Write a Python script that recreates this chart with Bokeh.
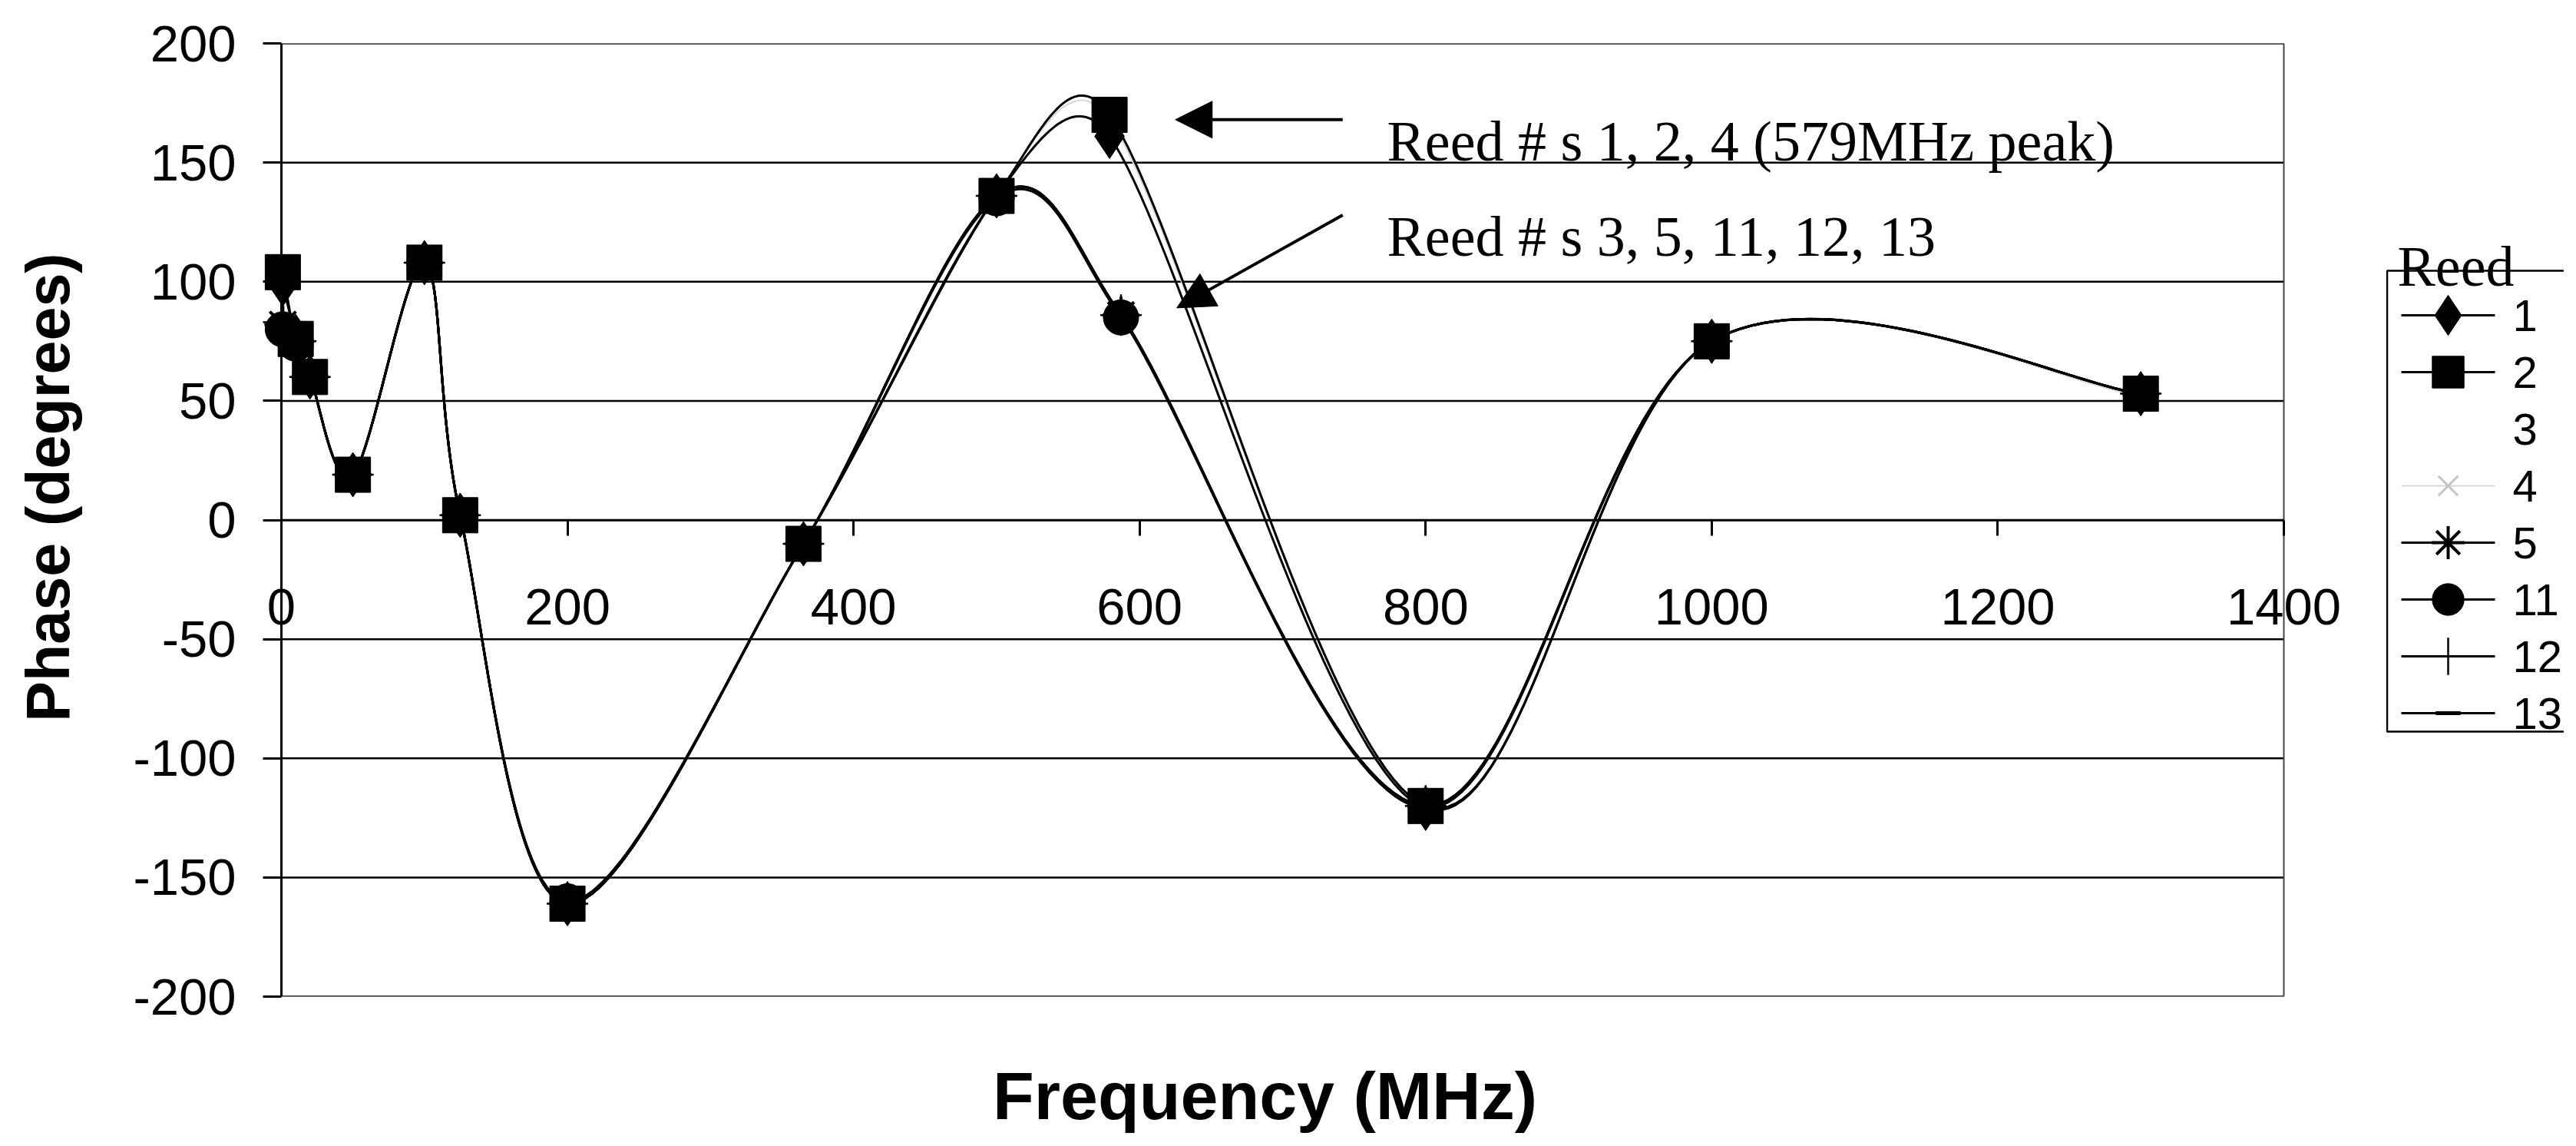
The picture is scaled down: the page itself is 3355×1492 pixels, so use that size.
import numpy as np
from bokeh.plotting import figure
from bokeh.layouts import row, column
from bokeh.models import (Range1d, FixedTicker, Arrow, NormalHead, Label)
from bokeh.core.properties import value
from bokeh.embed import file_html
from bokeh.resources import INLINE

# ---------------- data ----------------
freq_A = [1, 10, 20, 50, 100, 125, 200, 365, 500, 579, 800, 1000, 1300]   # reeds 1, 2, 4
freq_B = [1, 10, 20, 50, 100, 125, 200, 365, 500, 587, 800, 1000, 1300]   # reeds 3, 5, 11, 12, 13

reed_1 = [99, 77, 60, 19, 108, 2, -161, -10, 136, 161, -121, 75, 53]
reed_2 = [104, 76, 60, 19, 108, 2, -161, -10, 136, 170, -120, 75, 53]
reed_4 = [102, 75, 60, 19, 108, 2, -161, -10, 136, 168, -120, 75, 52]
reed_3 = [97, 74, 60, 19, 108, 2, -161, -10, 136, 86, -120, 75, 53]
reed_5 = [82, 75, 60, 19, 108, 2, -161, -10, 136, 86, -120, 75, 53]
reed_11 = [80, 74, 60, 19, 108, 2, -160, -10, 135, 85, -120, 75, 53]
reed_12 = [83, 75, 60, 19, 108, 2, -161, -10, 136, 86, -120, 75, 53]
reed_13 = [81, 74, 60, 19, 108, 2, -161, -10, 136, 86, -121, 75, 53]

x_ticks = [0, 200, 400, 600, 800, 1000, 1200, 1400]
y_ticks = [-200, -150, -100, -50, 0, 50, 100, 150, 200]

x_title = "Frequency (MHz)"
y_title = "Phase (degrees)"
legend_title = "Reed"
legend_order = ["1", "2", "3", "4", "5", "11", "12", "13"]

note_1 = "Reed # s 1, 2, 4 (579MHz peak)"
note_2 = "Reed # s 3, 5, 11, 12, 13"
note_x = 773
note_1_y = 159
note_2_y = 119
arrow_1 = (742, 168, 625, 168)
arrow_2 = (742, 128, 626, 89)

X_MIN, X_MAX, Y_MIN, Y_MAX = 0, 1400, -200, 200

# ---------------- layout constants (pixels, page coordinates minus margin) ----------------
TOTAL_W, TOTAL_H = 3339, 1476
PLOT_LEFT = 366            # pixel of x = 0
PLOT_W, PLOT_H = 2608, 1241
TOP = 56
PAD_L, PAD_R = 24, 80      # frame extends a little beyond the plot area
YT_W = 124                 # strip holding the y title
MAIN_END = 3107            # legend strip starts here
MAIN_H = TOP + PLOT_H + 46
FRAME_L = PLOT_LEFT - PAD_L
FRAME_R = PLOT_LEFT + PLOT_W + PAD_R
LEG_W = TOTAL_W - MAIN_END
XT_H = TOTAL_H - MAIN_H
PX_X = PLOT_W / (X_MAX - X_MIN)
PX_Y = PLOT_H / (Y_MAX - Y_MIN)

SANS = "Liberation Sans"
SERIF = "Liberation Serif"


def smooth(xs, ys, steps=40):
    """Excel-like smoothed line: Bezier segments, tangent parallel to the
    neighbours' chord, control distance 1/6 (shortened for short segments),
    computed in screen space."""
    X = np.asarray(xs, float) * PX_X
    Y = np.asarray(ys, float) * PX_Y
    n = len(X)
    px, py = [], []
    for i in range(n - 1):
        i0 = max(i - 1, 0)
        i3 = min(i + 2, n - 1)
        d12 = np.hypot(X[i + 1] - X[i], Y[i + 1] - Y[i])
        d02 = np.hypot(X[i + 1] - X[i0], Y[i + 1] - Y[i0])
        d13 = np.hypot(X[i3] - X[i], Y[i3] - Y[i])
        f1 = min(1 / 6, 0.5 * d12 / d02) if d02 > 0 else 0
        f2 = min(1 / 6, 0.5 * d12 / d13) if d13 > 0 else 0
        c1x = X[i] + f1 * (X[i + 1] - X[i0])
        c1y = Y[i] + f1 * (Y[i + 1] - Y[i0])
        c2x = X[i + 1] - f2 * (X[i3] - X[i])
        c2y = Y[i + 1] - f2 * (Y[i3] - Y[i])
        t = np.linspace(0, 1, steps)
        if i < n - 2:
            t = t[:-1]
        a = (1 - t) ** 3
        b = 3 * t * (1 - t) ** 2
        c = 3 * t ** 2 * (1 - t)
        d = t ** 3
        px.extend((a * X[i] + b * c1x + c * c2x + d * X[i + 1]) / PX_X)
        py.extend((a * Y[i] + b * c1y + c * c2y + d * Y[i + 1]) / PX_Y)
    return px, py


def strip(w, h, xr, yr, bl=0, br=0, bt=0, bb=0):
    f = figure(width=w, height=h, output_backend="svg", toolbar_location=None,
               x_range=xr, y_range=yr, min_border_left=bl, min_border_right=br,
               min_border_top=bt, min_border_bottom=bb)
    f.axis.visible = False
    f.grid.visible = False
    f.outline_line_color = None
    f.background_fill_color = "white"
    f.border_fill_color = "white"
    return f


# ================= main chart =================
p = figure(width=MAIN_END - YT_W, height=MAIN_H, output_backend="svg",
           toolbar_location=None,
           x_range=Range1d(X_MIN - PAD_L / PX_X, X_MAX + PAD_R / PX_X),
           y_range=Range1d(Y_MIN, Y_MAX),
           min_border_left=FRAME_L - YT_W, min_border_right=MAIN_END - FRAME_R,
           min_border_top=TOP, min_border_bottom=MAIN_H - TOP - PLOT_H)
p.background_fill_color = "white"
p.border_fill_color = "white"
p.outline_line_color = None

# x axis crossing at phase 0
xa = p.xaxis[0]
xa.fixed_location = 0
xa.bounds = (X_MIN, X_MAX)
xa.ticker = FixedTicker(ticks=x_ticks)
xa.axis_line_width = 2.5
xa.major_tick_line_width = 3
xa.major_tick_out = 20
xa.major_tick_in = 0
xa.minor_tick_line_color = None
xa.major_label_text_font = SANS
xa.major_label_text_font_size = "67px"
xa.major_label_text_color = "black"
xa.major_label_standoff = 70
p.xgrid.visible = False
p.ygrid.visible = False

# y axis (at the frame edge; its ticks reach in to x = 0)
ya = p.yaxis[0]
ya.ticker = FixedTicker(ticks=y_ticks)
ya.bounds = (Y_MIN, Y_MAX)
ya.major_label_overrides = {t: str(t) for t in y_ticks}
ya.axis_line_color = None
ya.major_tick_line_width = 3
ya.major_tick_out = 0
ya.major_tick_in = PAD_L
ya.minor_tick_line_color = None
ya.major_label_text_font = SANS
ya.major_label_text_font_size = "67px"
ya.major_label_text_color = "black"
ya.major_label_standoff = 35

# horizontal grid lines limited to the plot area, axis line at x = 0, right border
p.segment(x0=[X_MIN] * len(y_ticks), y0=y_ticks, x1=[X_MAX] * len(y_ticks), y1=y_ticks,
          line_color="black", line_width=2.5)
p.segment(x0=[X_MIN], y0=[Y_MIN], x1=[X_MIN], y1=[Y_MAX], line_color="black", line_width=3)
p.segment(x0=[X_MAX], y0=[Y_MIN], x1=[X_MAX], y1=[Y_MAX], line_color="#444444", line_width=2)

# series: name, freqs, values, marker, size, marker colour, line colour, line width, marker line width
series = [
    ("3", freq_B, reed_3, "triangle", 46, "#ffffff", "#ffffff", 3, 1),
    ("4", freq_A, reed_4, "x", 40, "#c4c4c4", "#d8d8d8", 2, 3),
    ("1", freq_A, reed_1, "diamond", 58, "black", "black", 3, 1),
    ("2", freq_A, reed_2, "square", 46, "black", "black", 3, 1),
    ("5", freq_B, reed_5, "asterisk", 48, "black", "black", 3, 4),
    ("11", freq_B, reed_11, "circle", 46, "black", "black", 3, 1),
    ("12", freq_B, reed_12, "cross", 54, "black", "black", 3, 2.5),
    ("13", freq_B, reed_13, "dash", 36, "black", "black", 3, 5),
]
style = {}
for name, fx, fy, marker, size, mcolor, lcolor, lw, mlw in series:
    sx, sy = smooth(fx, fy)
    p.line(sx, sy, line_color=lcolor, line_width=lw)
    p.scatter(fx, fy, marker=marker, size=size, fill_color=mcolor,
              line_color=mcolor, line_width=mlw)
    style[name] = (marker, size, mcolor, lcolor, lw, mlw)

# annotations
for (x0, y0, x1, y1) in (arrow_1, arrow_2):
    p.add_layout(Arrow(end=NormalHead(size=48, fill_color="black", line_color="black"),
                       x_start=x0, y_start=y0, x_end=x1, y_end=y1,
                       line_color="black", line_width=4))
for txt, ty in ((note_1, note_1_y), (note_2, note_2_y)):
    p.add_layout(Label(x=note_x, y=ty, text=txt, text_align="left",
                       text_baseline="middle", text_font=SERIF,
                       text_font_size="74px", text_color="black"))

# ================= y title strip (pixel coordinates, y downwards) =================
yt = strip(YT_W, MAIN_H, Range1d(0, YT_W), Range1d(TOP + PLOT_H, TOP),
           bt=TOP, bb=MAIN_H - TOP - PLOT_H)
yt.text(x=[62], y=[634], text=[y_title], angle=np.pi / 2, text_font=value(SANS),
        text_font_style="bold", text_font_size=value("79px"), text_align="center",
        text_baseline="middle", text_color="black")

# ================= legend strip (pixel coordinates, y downwards) =================
lg = strip(LEG_W, MAIN_H, Range1d(0, LEG_W), Range1d(TOP + PLOT_H, TOP),
           bt=TOP, bb=MAIN_H - TOP - PLOT_H)
BOX_TOP, BOX_BOTTOM = 352, 952
ROW0, PITCH = 410, 74
lg.line(x=[LEG_W + 20, 1.5, 1.5, LEG_W + 20], y=[BOX_TOP, BOX_TOP, BOX_BOTTOM, BOX_BOTTOM],
        line_color="black", line_width=2.5)
lg.text(x=[15], y=[346], text=[legend_title], text_font=value(SERIF),
        text_font_size=value("74px"), text_baseline="alphabetic", text_align="left",
        text_color="black")
for i, name in enumerate(legend_order):
    marker, size, mcolor, lcolor, lw, mlw = style[name]
    yy = ROW0 + PITCH * i
    lg.line(x=[20, 142], y=[yy, yy], line_color=lcolor, line_width=lw)
    lg.scatter(x=[81], y=[yy], marker=marker, size=size * 0.9, fill_color=mcolor,
               line_color=mcolor, line_width=mlw)
    lg.text(x=[165], y=[yy], text=[name], text_font=value(SANS),
            text_font_size=value("58px"), text_baseline="middle", text_align="left",
            text_color="black")

# ================= x title strip =================
xt = strip(TOTAL_W, XT_H, Range1d(FRAME_L, FRAME_R), Range1d(XT_H, 0),
           bl=FRAME_L, br=TOTAL_W - FRAME_R)
xt.text(x=[1647], y=[1426 - MAIN_H], text=[x_title], text_font=value(SANS),
        text_font_style="bold", text_font_size=value("88px"), text_align="center",
        text_baseline="middle", text_color="black")

layout = column(row(yt, p, lg, spacing=0), xt, spacing=0)
open("out.html", "w").write(file_html(layout, INLINE))
